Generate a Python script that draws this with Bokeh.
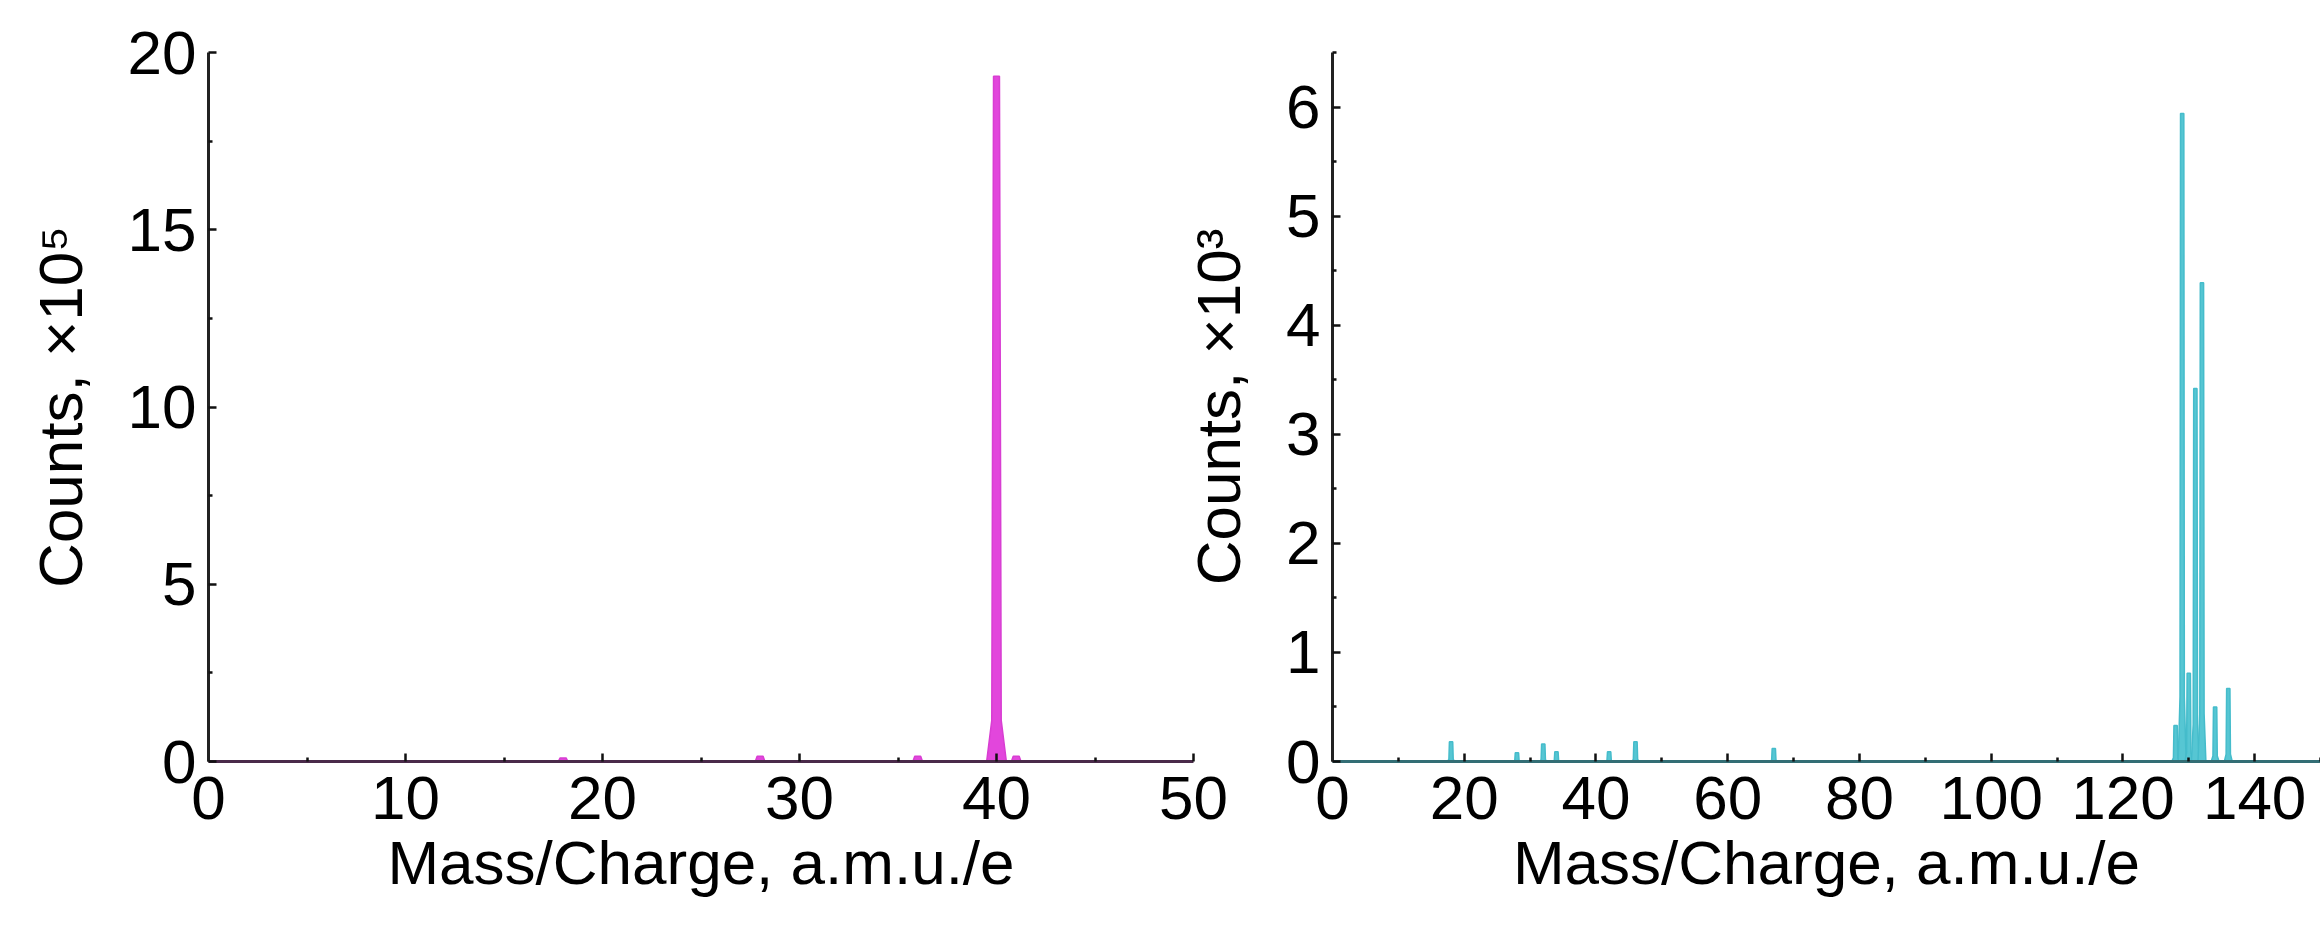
from bokeh.plotting import figure
from bokeh.models import Range1d, FixedTicker
from bokeh.layouts import row
from bokeh.embed import file_html
from bokeh.resources import INLINE

# ---------------- data ----------------
# Left panel: argon spectrum, counts in units of 1e5
ar_mz = [18, 28, 36, 40, 41]
ar_counts = [0.10, 0.15, 0.15, 19.33, 0.15]

# Right panel: xenon spectrum, counts in units of 1e3
xe_mz = [18, 28, 32, 34, 42, 46, 67, 128, 129, 130, 131, 132, 134, 136]
xe_counts = [0.18, 0.08, 0.16, 0.09, 0.09, 0.18, 0.12, 0.33, 5.94, 0.81, 3.42, 4.39, 0.50, 0.67]

left_xticks = [0, 10, 20, 30, 40, 50]
left_yticks = [0, 5, 10, 15, 20]
right_xticks = [0, 20, 40, 60, 80, 100, 120, 140]
right_yticks = [0, 1, 2, 3, 4, 5, 6]

FONT = "Liberation Sans"
MAGENTA_FILL = "#e246dc"
MAGENTA_LINE = "#d83ed2"
CYAN_FILL = "#56c6d3"
CYAN_LINE = "#45bccb"


def peak_shapes(centers, heights, top_half, base_half, shoulder_half, shoulder_frac):
    xs, ys = [], []
    for c, h in zip(centers, heights):
        xs.append([c - base_half, c - shoulder_half, c - top_half,
                   c + top_half, c + shoulder_half, c + base_half])
        ys.append([0, h * shoulder_frac, h, h, h * shoulder_frac, 0])
    return xs, ys


def style(p, xticks, xminor, yticks, yminor, ylabel, xaxis_color):
    p.grid.visible = False
    p.outline_line_color = None
    p.xaxis.ticker = FixedTicker(ticks=xticks, minor_ticks=xminor)
    p.yaxis.ticker = FixedTicker(ticks=yticks, minor_ticks=yminor)
    for ax in (p.xaxis, p.yaxis):
        ax.major_tick_in = 8
        ax.major_tick_out = 0
        ax.minor_tick_in = 4
        ax.minor_tick_out = 0
        ax.major_tick_line_width = 2.5
        ax.minor_tick_line_width = 2.5
        ax.major_tick_line_color = "#111111"
        ax.minor_tick_line_color = "#111111"
        ax.major_label_text_font = FONT
        ax.major_label_text_font_size = "62px"
        ax.major_label_text_color = "black"
        ax.axis_label_text_font = FONT
        ax.axis_label_text_font_size = "62px"
        ax.axis_label_text_font_style = "normal"
        ax.axis_label_text_color = "black"
        ax.axis_line_width = 3
    p.xaxis.axis_line_color = xaxis_color
    p.yaxis.axis_line_color = "#222222"
    p.xaxis.axis_label = "Mass/Charge, a.m.u./e"
    p.yaxis.axis_label = ylabel
    p.xaxis.major_label_standoff = 15
    p.yaxis.major_label_standoff = 12
    p.xaxis.axis_label_standoff = 6
    p.yaxis.axis_label_standoff = 30


# ---------------- left figure ----------------
p1 = figure(width=1232, height=935, x_range=Range1d(0, 50), y_range=Range1d(0, 20),
            output_backend="svg", toolbar_location=None,
            min_border_left=208, min_border_right=39, min_border_top=52, min_border_bottom=174)
xs1, ys1 = peak_shapes(ar_mz, ar_counts, 0.15, 0.5, 0.24, 0.06)
p1.patches(xs1, ys1, fill_color=MAGENTA_FILL, line_color=MAGENTA_LINE, line_width=1.5)
style(p1, left_xticks, [5, 15, 25, 35, 45], left_yticks, [2.5, 7.5, 12.5, 17.5],
      "Counts, ×10⁵", "#4a2a4a")

# ---------------- right figure ----------------
p2 = figure(width=1148, height=935, x_range=Range1d(0, 150), y_range=Range1d(0, 6.5),
            output_backend="svg", toolbar_location=None,
            min_border_left=160, min_border_right=0, min_border_top=52, min_border_bottom=174,
            margin=(0, 0, 0, -60))
p2.background_fill_alpha = 0
p2.border_fill_alpha = 0
xs2, ys2 = peak_shapes(xe_mz, xe_counts, 0.25, 0.6, 0.33, 0.1)
p2.patches(xs2, ys2, fill_color=CYAN_FILL, line_color=CYAN_LINE, line_width=1.5)
style(p2, right_xticks, [10, 30, 50, 70, 90, 110, 130, 150], right_yticks,
      [0.5, 1.5, 2.5, 3.5, 4.5, 5.5, 6.5], "Counts, ×10³", "#336e75")

layout = row(p1, p2)
open("out.html", "w").write(file_html(layout, INLINE))
